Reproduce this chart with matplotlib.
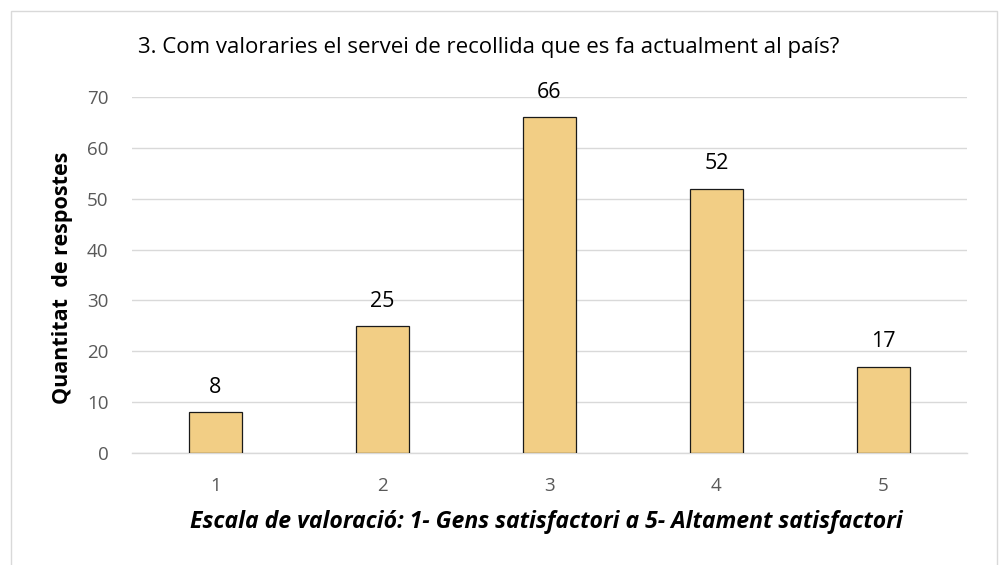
import matplotlib
matplotlib.use("Agg")
import matplotlib.pyplot as plt
from matplotlib.patches import Rectangle

plt.rcParams['font.family'] = ['Open Sans', 'DejaVu Sans']

categories = ["1", "2", "3", "4", "5"]
counts = [8, 25, 66, 52, 17]
title = "3. Com valoraries el servei de recollida que es fa actualment al país?"
ylabel = "Quantitat  de respostes"
xlabel = "Escala de valoració: 1- Gens satisfactori a 5- Altament satisfactori"

fig = plt.figure(figsize=(10.02, 5.65), dpi=100)
fig.patches.append(Rectangle((11 / 1002, -0.01), 986 / 1002, 1 - 11 / 565 + 0.01,
                             transform=fig.transFigure, fill=False,
                             edgecolor="#D9D9D9", linewidth=1))

ax = fig.add_axes([0.1317, 0.1982, 0.8333, 0.630])
x = range(1, len(categories) + 1)
bars = ax.bar(x, counts, width=0.32, color="#F2CE85", edgecolor="#1a1a1a",
              linewidth=0.9, zorder=3)
for xi, v in zip(x, counts):
    ax.text(xi, v + 2.8, str(v), ha="center", va="bottom", fontsize=15.5, color="black")

ax.set_xlim(0.5, 5.5)
ax.set_ylim(0, 70)
ax.set_yticks(range(0, 71, 10))
ax.set_xticks(list(x))
ax.set_xticklabels(categories)
ax.grid(axis="y", color="#D9D9D9", linewidth=1, zorder=0)
for s in ["top", "right", "left"]:
    ax.spines[s].set_visible(False)
ax.spines["bottom"].set_color("#D9D9D9")
ax.spines["bottom"].set_linewidth(1)
ax.tick_params(axis="both", length=0, labelsize=13.5, colors="#595959")
ax.tick_params(axis="x", pad=17)
ax.tick_params(axis="y", pad=17)

fig.text(489 / 1002, 1 - 48 / 565, title, ha="center", va="center", fontsize=16, color="black")
fig.text(63 / 1002, 1 - 278 / 565, ylabel, ha="center", va="center", rotation=90,
         fontsize=15.5, fontweight="bold", color="black")
fig.text(546 / 1002, 1 - 522 / 565, xlabel, ha="center", va="center",
         fontsize=16.6, fontweight="bold", fontstyle="italic", color="black")

fig.savefig("out.png", dpi=100)
